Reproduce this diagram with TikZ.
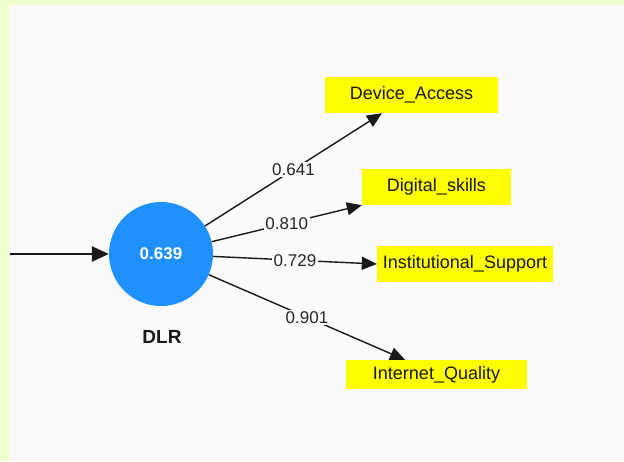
\documentclass[tikz,border=0pt]{standalone}
\usepackage{fontspec}
\setmainfont{Liberation Sans}
\usepackage{xcolor}
\usetikzlibrary{arrows.meta,positioning,calc}
\definecolor{FrameLime}{HTML}{EEFFCC}
\definecolor{PaneGray}{HTML}{FAFAFA}
\definecolor{LatentBlue}{HTML}{1E90FF}
\definecolor{IndYellow}{HTML}{FFFF00}

\begin{document}
\begin{tikzpicture}[x=1pt, y=-1pt, font=\fontsize{18}{20}\selectfont,
  ind/.style={fill=IndYellow, inner sep=0pt, minimum height=36pt, text=black!90},
  lat/.style={circle, fill=LatentBlue, minimum size=104pt, inner sep=0pt,
              text=white, font=\fontsize{17}{19}\selectfont\bfseries},
  ar/.style={-{Triangle[length=15pt,width=13pt]}, line width=1.4pt, black!90},
  wt/.style={fill=PaneGray, inner sep=1.5pt, font=\fontsize{17}{19}\selectfont, text=black!85}]
\useasboundingbox (0,0) rectangle (624,461);
\fill[FrameLime] (0,0) rectangle (624,461);
\fill[PaneGray] (9,5) rectangle (624,461);
% latent variable
\node[lat] (dlr) at (161,254) {0.639};
\node[font=\fontsize{19}{21}\selectfont\bfseries, text=black!90] (dlrname) at (162,337) {DLR};
% indicators
\node[ind, minimum width=173pt] (dev) at (411.5,95) {Device\_Access};
\node[ind, minimum width=149pt] (dig) at (436.5,187) {Digital\_skills};
\node[ind, minimum width=176pt] (inst) at (465,264) {Institutional\_Support};
\node[ind, minimum width=181pt, minimum height=29pt] (inet) at (436.5,374.5) {Internet\_Quality};
% incoming path
\coordinate (src) at (10,254);
\draw[-{Triangle[length=17pt,width=15pt]}, line width=2.4pt, black!90] (src) -- (dlr);
% outer loadings
\draw[ar] (dlr) -- node[wt] {0.641} ([xshift=-29.5pt]dev.south);
\draw[ar] (dlr) -- node[wt] {0.810} (dig.south west);
\draw[ar] (dlr) -- node[wt] {0.729} (inst.west);
\draw[ar] (dlr) -- node[wt] {0.901} ([xshift=-31.5pt]inet.north);
\end{tikzpicture}
\end{document}
